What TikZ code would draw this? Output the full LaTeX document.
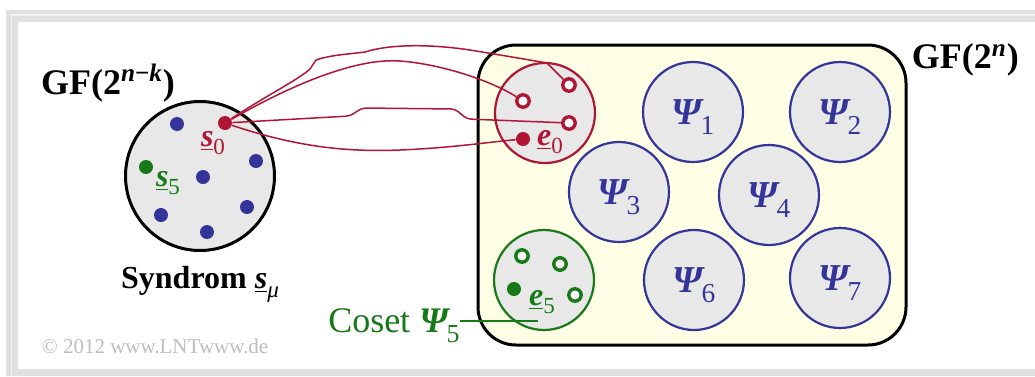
\documentclass[tikz,border=0pt]{standalone}
\usepackage{fontspec}
\setmainfont{Liberation Serif}
\usepackage{graphicx}
\usepackage{xcolor}
\definecolor{lntred}{HTML}{B01535}
\definecolor{psiblue}{HTML}{34349A}
\definecolor{lntgreen}{HTML}{177A17}
\definecolor{cellgray}{HTML}{E8E8E8}
\definecolor{fieldyellow}{HTML}{FFFFE6}
\definecolor{framegray}{HTML}{E0E0E0}
\definecolor{notegray}{HTML}{BDBDBD}
\usetikzlibrary{positioning}

% lowered index, vector symbol and coset symbol
\newcommand{\lowidx}[1]{\raisebox{-0.6ex}{\scalebox{0.72}{\textnormal{#1}}}}
\newcommand{\vecsym}[2]{\underline{\textbf{\textit{#1}}}\lowidx{#2}}
\newcommand{\psisym}[1]{\textbf{\textit{Ψ}}\kern-0.1em\lowidx{#1}}

\begin{document}
\begin{tikzpicture}[x=0.5pt, y=-0.5pt,
  gflabel/.style={font=\fontsize{18}{20}\selectfont\bfseries, inner sep=0pt},
  veclabel/.style={font=\fontsize{16}{18}\selectfont, inner sep=0pt},
  syncircle/.style={circle, draw=black, fill=cellgray, line width=1.5pt,
                    minimum size=74.5pt},
  coset/.style={circle, draw=psiblue, fill=cellgray, line width=1.1pt,
                minimum size=50pt, text=psiblue, text depth=0pt,
                font=\fontsize{19}{21}\selectfont},
  dot/.style={circle, fill=psiblue, inner sep=0pt, minimum size=7pt},
  hole/.style={circle, draw=lntred, fill=white, line width=1.7pt,
               inner sep=0pt, minimum size=6.2pt},
  fieldbox/.style={draw=black, fill=fieldyellow, line width=1.5pt,
                   rounded corners=19pt},
  link/.style={lntred, line width=0.75pt}
]
\useasboundingbox (0,0) rectangle (1035,376);

% ---- frame ----
\fill[framegray, even odd rule] (6,10) rectangle (1035,376) (18,22) rectangle (1035,369);
\draw[white, opacity=0.6, line width=0.6pt] (11.5,376) |- (1035,15);

% ---- syndrome space ----
\node[syncircle] (syn) at (200,176) {};
\foreach \x/\y [count=\i] in {177/124, 256/161, 203/177, 247/207, 161/215, 207/232}
  \node[dot] (d\i) at (\x,\y) {};
\node[dot, fill=lntred]   (s0) at (225,123) {};
\node[dot, fill=lntgreen] (s5) at (146,167) {};
\node[veclabel, text=lntred]   (s0lbl) at (213,143) {\vecsym{s}{0}};
\node[veclabel, text=lntgreen] (s5lbl) at (168,183) {\vecsym{s}{5}};
\node[gflabel] (gfnk) at (108,83) {GF(2\textsuperscript{\textit{n}−\textit{k}})};
\node[gflabel, font=\fontsize{16}{18}\selectfont\bfseries, below=7pt of syn]
  (synlbl) {Syndrom \vecsym{s}{\textit{μ}}};

% ---- code space ----
\node[fieldbox, minimum width=214pt, minimum height=150pt] (box) at (692,195) {};
\node[gflabel, anchor=north west] (gfn) at ([xshift=2pt]box.north east) {GF(2\textsuperscript{\textit{n}})};

\node[coset, draw=lntred]   (e0) at (545,113) {};
\node[coset]                (psi1) at (693,112) {\psisym{1}};
\node[coset]                (psi2) at (840,112) {\psisym{2}};
\node[coset]                (psi3) at (619,192) {\psisym{3}};
\node[coset]                (psi4) at (769,195) {\psisym{4}};
\node[coset, draw=lntgreen] (e5) at (544,280) {};
\node[coset]                (psi6) at (694,280) {\psisym{6}};
\node[coset]                (psi7) at (840,278) {\psisym{7}};

% coset of e_0
\node[hole] (h1) at (569,85) {};
\node[hole] (h2) at (523,101) {};
\node[hole] (h3) at (569,123) {};
\node[dot, fill=lntred] (e0dot) at (523,139) {};
\node[veclabel, text=lntred] (e0lbl) at (550,142) {\vecsym{e}{0}};

% coset of e_5
\node[hole, draw=lntgreen] (g1) at (522,256) {};
\node[hole, draw=lntgreen] (g2) at (560,264) {};
\node[hole, draw=lntgreen] (g3) at (575,295) {};
\node[dot, fill=lntgreen] (e5dot) at (514,289) {};
\node[veclabel, text=lntgreen] (e5lbl) at (542,302) {\vecsym{e}{5}};

% ---- syndrome s_0 belongs to all words of its coset ----
\draw[link] (s0) .. controls (262,98) and (298,80) .. (310,69) -- (316,60)
  .. controls (330,55) and (350,54) .. (365,52)
  .. controls (390,44) and (430,44) .. (470,50)
  .. controls (500,55) and (530,60) .. (547,63) -- (h1);
\draw[link] (s0) .. controls (300,80) and (360,58) .. (400,61)
  .. controls (440,64) and (490,80) .. (h2);
\draw[link, rounded corners=2pt] (s0) -- (350,116) -- (362,108) -- (455,109)
  -- (467,119) -- (h3);
\draw[link] (s0) .. controls (300,148) and (350,152) .. (400,150)
  .. controls (450,148) and (490,142) .. (e0dot);

% ---- coset label ----
\node[font=\fontsize{18}{20}\selectfont, text=lntgreen, inner sep=0pt,
      text depth=0pt, anchor=east] (cosetlbl) at (460,321) {Coset \psisym{5}};
\coordinate (e5tail) at (538,321);
\draw[lntgreen, line width=0.6pt] (cosetlbl.east) -- (e5tail);

\node[font=\fontsize{10.5}{12}\selectfont, text=notegray, inner sep=0pt]
  (copy) at (155,346) {© 2012 www.LNTwww.de};
\end{tikzpicture}
\end{document}
